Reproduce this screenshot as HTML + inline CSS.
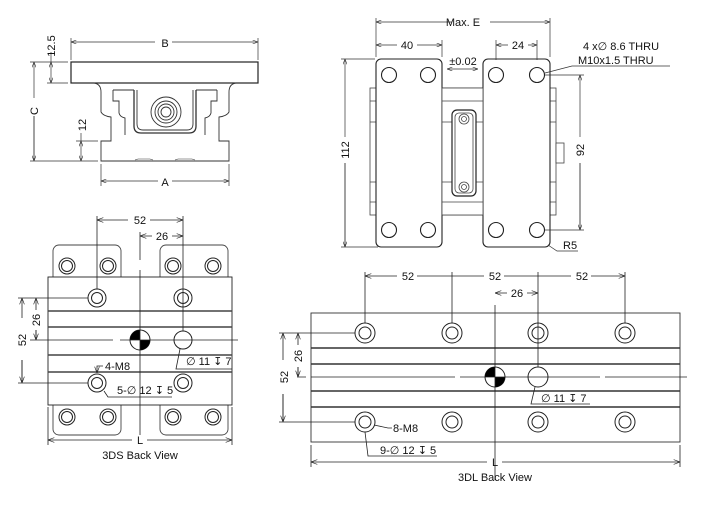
<!DOCTYPE html>
<html><head><style>body{margin:0;background:#fff}svg{display:block}text{font-family:"Liberation Sans","DejaVu Sans",sans-serif;font-size:11px;fill:#111}</style></head><body>
<svg width="712" height="513" viewBox="0 0 712 513" xmlns="http://www.w3.org/2000/svg">
<defs>
<marker id="a" viewBox="0 0 8 6" refX="8" refY="3" markerWidth="8" markerHeight="6" orient="auto-start-reverse"><path d="M0,0L8,3L0,6" fill="none" stroke="#222" stroke-width="0.8"/></marker>
</defs>
<g fill="none" stroke="#333" stroke-width="0.9">
<rect x="71" y="62" width="187" height="21" fill="#fff" stroke="#222" stroke-width="1.2"/>
<path d="M94,83 Q101,84 101,92 L101,112 Q103,116 111,117 L111,141 L101,141 L101,161 L229,161 L229,141 L219,141 L219,117 Q227,116 229,112 L229,92 Q229,84 236,83"/>
<path d="M113,90 L113,101 L119,101 L119,113 Q120,117 125,118 L125,135"/>
<path d="M217,90 L217,101 L211,101 L211,113 Q210,117 205,118 L205,135"/>
<path d="M113,90 L134,90 M196,90 L217,90"/>
<path d="M134,90 L134,126 Q134,133 141,133 L189,133 Q196,133 196,126 L196,90" stroke-width="1.3"/>
<path d="M137,90 L137,124 Q137,130 143,130 L187,130 Q193,130 193,124 L193,90"/>
<circle cx="166" cy="112" r="15"/><circle cx="166" cy="112" r="11"/><circle cx="166" cy="112" r="8"/><circle cx="166" cy="112" r="5"/>
<path d="M135,160 L138,159 L150,159 L153,160 M175,160 L178,159 L192,159 L195,160" stroke-width="0.6"/>
</g>
<g stroke="#333" stroke-width="0.7" fill="none">
<path d="M71,38V60M258,38V60"/>
<path d="M71,42H155M172,42H258" marker-start="url(#a)" marker-end="url(#a)"/>
<path d="M101,164V186M229,164V186"/>
<path d="M101,181H158M172,181H229" marker-start="url(#a)" marker-end="url(#a)"/>
<path d="M30,62H68M30,161H98M47,83H68M76,141H98"/>
<path d="M34,62V98M34,116V161" marker-start="url(#a)"/>
<path d="M34,116V161" marker-end="url(#a)"/>
<path d="M51,62V83" marker-start="url(#a)" marker-end="url(#a)"/>
<path d="M81,141V161" marker-start="url(#a)" marker-end="url(#a)"/>
<path d="M51,52V62M81,133V141"/>
</g>
<text x="165" y="47" text-anchor="middle" font-size="12">B</text>
<text x="165" y="186" text-anchor="middle" font-size="12">A</text>
<text transform="translate(38,111) rotate(-90)" text-anchor="middle" font-size="12">C</text>
<text transform="translate(55,46) rotate(-90)" text-anchor="middle">12.5</text>
<text transform="translate(86,125) rotate(-90)" text-anchor="middle">12</text>

<g fill="#fff" stroke="#444" stroke-width="0.8">
<rect x="370" y="88" width="186" height="127"/>
<path d="M370,101H556M370,122H556M370,182H556M370,202H556" fill="none"/>
<rect x="556" y="143" width="8" height="20"/>
<rect x="376" y="59" width="66" height="188" rx="5" stroke="#222" stroke-width="1.1"/>
<rect x="483" y="59" width="67" height="188" rx="5" stroke="#222" stroke-width="1.1"/>
<rect x="442" y="88" width="41" height="127"/>
<path d="M442,101H483M442,122H483M442,182H483M442,202H483" fill="none"/>
<rect x="452" y="110" width="24" height="86" rx="5" stroke="#222" stroke-width="1.2"/>
<rect x="455" y="113" width="18" height="80" rx="4"/>
<circle cx="464" cy="119" r="5"/><circle cx="464" cy="119" r="2.5"/>
<circle cx="464" cy="187" r="5"/><circle cx="464" cy="187" r="2.5"/>
</g>
<g fill="#fff" stroke="#222" stroke-width="1.1">
<circle cx="389" cy="75" r="7.5"/><circle cx="428" cy="75" r="7.5"/><circle cx="496" cy="75" r="7.5"/><circle cx="537" cy="75" r="7.5"/>
<circle cx="389" cy="230" r="7.5"/><circle cx="428" cy="230" r="7.5"/><circle cx="496" cy="230" r="7.5"/><circle cx="537" cy="230" r="7.5"/>
</g>
<g stroke="#333" stroke-width="0.7" fill="none">
<path d="M376,18V57M550,18V57M442,40V57M496,40V60M537,40V60"/>
<path d="M376,22H452M490,22H550" marker-start="url(#a)" marker-end="url(#a)"/>
<path d="M376,45H397M417,45H442" marker-start="url(#a)" marker-end="url(#a)"/>
<path d="M496,45H508M528,45H537" marker-start="url(#a)" marker-end="url(#a)"/>
<path d="M447,69H463M463,69H478" marker-start="url(#a)" marker-end="url(#a)"/>
<path d="M341,59H375M341,247H378M545,75H584M545,230H584"/>
<path d="M345,59V137M345,163V247" marker-start="url(#a)"/>
<path d="M345,163V247" marker-end="url(#a)"/>
<path d="M580,75V137M580,163V230" marker-start="url(#a)"/>
<path d="M580,163V230" marker-end="url(#a)"/>
<path d="M545,73L572,66H670M548,245L557,251H578"/>
</g>
<text x="463" y="26" text-anchor="middle">Max. E</text>
<text x="407" y="49" text-anchor="middle">40</text>
<text x="518" y="49" text-anchor="middle">24</text>
<text x="463" y="65" text-anchor="middle">±0.02</text>
<text x="583" y="50">4 x∅ 8.6 THRU</text>
<text x="578" y="64">M10x1.5 THRU</text>
<text x="563" y="249">R5</text>
<text transform="translate(349,150) rotate(-90)" text-anchor="middle">112</text>
<text transform="translate(584,150) rotate(-90)" text-anchor="middle">92</text>

<g fill="#fff" stroke="#444" stroke-width="0.9">
<rect x="53" y="245" width="68" height="190" rx="6"/>
<rect x="160" y="245" width="68" height="190" rx="6"/>
<rect x="48" y="277" width="184" height="128" stroke="#222"/>
<path d="M48,311H232M48,327H232M48,355H232M48,372H232" fill="none" stroke-width="1.4"/>
</g>
<g fill="#fff" stroke="#222" stroke-width="1">
<circle cx="67" cy="266" r="8"/><circle cx="67" cy="266" r="5.5"/><circle cx="108" cy="266" r="8"/><circle cx="108" cy="266" r="5.5"/>
<circle cx="173" cy="266" r="8"/><circle cx="173" cy="266" r="5.5"/><circle cx="213" cy="266" r="8"/><circle cx="213" cy="266" r="5.5"/>
<circle cx="67" cy="417" r="8"/><circle cx="67" cy="417" r="5.5"/><circle cx="108" cy="417" r="8"/><circle cx="108" cy="417" r="5.5"/>
<circle cx="173" cy="417" r="8"/><circle cx="173" cy="417" r="5.5"/><circle cx="213" cy="417" r="8"/><circle cx="213" cy="417" r="5.5"/>
<circle cx="97" cy="298" r="9"/><circle cx="97" cy="298" r="5.5"/><circle cx="183" cy="298" r="9"/><circle cx="183" cy="298" r="5.5"/>
<circle cx="97" cy="383" r="9"/><circle cx="97" cy="383" r="5.5"/><circle cx="183" cy="383" r="9"/><circle cx="183" cy="383" r="5.5"/>
<circle cx="183" cy="340" r="9"/>
<circle cx="140" cy="340" r="10"/>
</g>
<path d="M140,330A10,10 0 0,0 130,340H140ZM140,350A10,10 0 0,0 150,340H140Z" fill="#000"/>
<g stroke="#222" stroke-width="0.8" fill="none">
<path d="M40,340H113M120,340H238M140,270V435"/>
<path d="M97,216V289M183,216V331M140,232V260"/>
<path d="M97,220H128M150,220H183" marker-start="url(#a)" marker-end="url(#a)"/>
<path d="M140,236H152M172,236H183" marker-start="url(#a)" marker-end="url(#a)"/>
<path d="M18,298H88M30,340H40M18,383H88"/>
<path d="M22,298V318M22,360V383" marker-start="url(#a)"/>
<path d="M22,360V383" marker-end="url(#a)"/>
<path d="M36,298V310M36,330V340" marker-start="url(#a)"/>
<path d="M36,330V340" marker-end="url(#a)"/>
<path d="M48,407V445M232,407V445"/>
<path d="M48,440H132M147,440H232" marker-start="url(#a)" marker-end="url(#a)"/>
<path d="M97,373V366H103" marker-start="url(#a)"/>
<path d="M104,391L108,397H172"/>
<path d="M180,349L176,369H232"/>
</g>
<text x="140" y="224" text-anchor="middle" font-size="12">52</text>
<text x="162" y="240" text-anchor="middle" font-size="12">26</text>
<text x="105" y="370">4-M8</text>
<text x="117" y="394">5-∅ 12 ↧ 5</text>
<text x="186" y="365">∅ 11 ↧ 7</text>
<text x="140" y="444" text-anchor="middle" font-size="12">L</text>
<text x="140" y="459" text-anchor="middle" font-size="10">3DS Back View</text>
<text transform="translate(26,340) rotate(-90)" text-anchor="middle" font-size="12">52</text>
<text transform="translate(40,320) rotate(-90)" text-anchor="middle" font-size="12">26</text>

<rect x="311" y="313" width="369" height="129" fill="#fff" stroke="#333" stroke-width="0.9"/>
<path d="M311,348H680M311,364H680M311,391H680M311,407H680" stroke="#333" stroke-width="1.4"/>
<g fill="#fff" stroke="#222" stroke-width="1">
<circle cx="365" cy="333" r="10"/><circle cx="365" cy="333" r="6"/><circle cx="452" cy="333" r="10"/><circle cx="452" cy="333" r="6"/>
<circle cx="538" cy="333" r="10"/><circle cx="538" cy="333" r="6"/><circle cx="625" cy="333" r="10"/><circle cx="625" cy="333" r="6"/>
<circle cx="365" cy="422" r="10"/><circle cx="365" cy="422" r="6"/><circle cx="452" cy="422" r="10"/><circle cx="452" cy="422" r="6"/>
<circle cx="538" cy="422" r="10"/><circle cx="538" cy="422" r="6"/><circle cx="625" cy="422" r="10"/><circle cx="625" cy="422" r="6"/>
<circle cx="538" cy="377" r="10"/>
<circle cx="495" cy="377" r="10"/>
</g>
<path d="M495,367A10,10 0 0,0 485,377H495ZM495,387A10,10 0 0,0 505,377H495Z" fill="#000"/>
<g stroke="#222" stroke-width="0.8" fill="none">
<path d="M297,377H306M311,377H455M460,377H600M605,377H687M495,305V480"/>
<path d="M365,272V323M452,272V323M538,272V367M625,272V323"/>
<path d="M365,276H397M417,276H452M452,276H484M504,276H538M538,276H571M591,276H625" marker-start="url(#a)" marker-end="url(#a)"/>
<path d="M495,293H507M527,293H538" marker-start="url(#a)" marker-end="url(#a)"/>
<path d="M279,333H355M279,422H355"/>
<path d="M283,333V360M283,394V422" marker-start="url(#a)"/>
<path d="M283,394V422" marker-end="url(#a)"/>
<path d="M298,333V345M298,367V377" marker-start="url(#a)"/>
<path d="M298,367V377" marker-end="url(#a)"/>
<path d="M311,445V467M680,445V467"/>
<path d="M311,462H487M502,462H680" marker-start="url(#a)" marker-end="url(#a)"/>
<path d="M374,425L388,428H392"/>
<path d="M365,432L368,456H437"/>
<path d="M535,387L531,404H590"/>
</g>
<text x="408" y="280" text-anchor="middle" font-size="12">52</text>
<text x="495" y="280" text-anchor="middle" font-size="12">52</text>
<text x="582" y="280" text-anchor="middle" font-size="12">52</text>
<text x="517" y="297" text-anchor="middle" font-size="12">26</text>
<text x="393" y="432">8-M8</text>
<text x="380" y="454">9-∅ 12 ↧ 5</text>
<text x="541" y="402">∅ 11 ↧ 7</text>
<text x="495" y="466" text-anchor="middle" font-size="12">L</text>
<text x="495" y="481" text-anchor="middle" font-size="10">3DL Back View</text>
<text transform="translate(288,377) rotate(-90)" text-anchor="middle" font-size="12">52</text>
<text transform="translate(302,356) rotate(-90)" text-anchor="middle" font-size="12">26</text>
</svg>
</body></html>
